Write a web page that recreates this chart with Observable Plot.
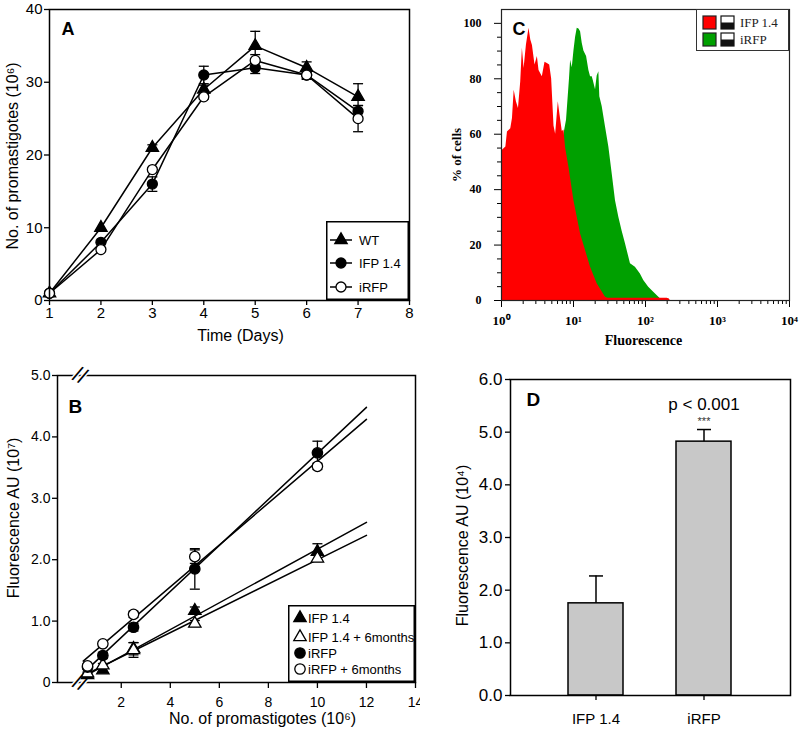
<!DOCTYPE html>
<html><head><meta charset="utf-8">
<script src="https://cdn.jsdelivr.net/npm/d3@7"></script>
<script src="https://cdn.jsdelivr.net/npm/@observablehq/plot@0.6"></script>
<style>
body{margin:0;background:#fff;}
#wrap{position:relative;width:800px;height:735px;overflow:hidden;background:#fff;}
.panel{position:absolute;overflow:hidden;}
.legend{position:absolute;}
</style></head><body><div id="wrap"></div>
<script>
// ---------- Panel A: growth curves ----------
const days = [1, 2, 3, 4, 5, 6, 7];
const dayTicks = [1, 2, 3, 4, 5, 6, 7, 8];
const countTicks = [0, 10, 20, 30, 40];
const wtCount = [1, 10, 21, 29, 35, 32, 28];
const wtErr = [0, 0, 0.4, 0.6, 2, 0.8, 1.8];
const ifpCount = [1, 8, 16, 31, 32, 31, 26];
const ifpErr = [0, 0, 1, 1.2, 0.8, 0.6, 0.8];
const irfpCount = [1, 7, 18, 28, 33, 31, 25];
const irfpErr = [0, 0, 0, 0.3, 0.8, 0.5, 1.8];
const seriesNamesA = ["WT", "IFP 1.4", "iRFP"];

// ---------- Panel B: fluorescence vs cell number ----------
const cellsB = [0.625, 1.25, 2.5, 5, 10];
const cellTicks = [2, 4, 6, 8, 10, 12, 14];
const fluorTicksB = [0, 1, 2, 3, 4, 5];
const ifpFluor = [0.12, 0.2, 0.55, 1.17, 2.13];
const ifpFluorErr = [0.02, 0.03, 0.1, 0.06, 0.13];
const ifp6Fluor = [0.15, 0.28, 0.53, 0.96, 2.02];
const ifp6FluorErr = [0.02, 0.03, 0.12, 0.05, 0.05];
const irfpFluor = [0.25, 0.44, 0.9, 1.85, 3.74];
const irfpFluorErr = [0.03, 0.05, 0.06, 0.33, 0.19];
const irfp6Fluor = [0.27, 0.63, 1.11, 2.05, 3.52];
const irfp6FluorErr = [0.03, 0.04, 0.05, 0.11, 0.05];
const seriesNamesB = ["IFP 1.4", "IFP 1.4 + 6months", "iRFP", "iRFP + 6months"];
const fitRange = [0.45, 12];

// ---------- Panel C: flow cytometry histograms (fluorescence, % of cells) ----------
const ifpHistogram = [
  [1.0, 54], [1.03, 54.2], [1.15, 55.4], [1.21, 60.8], [1.345, 62], [1.42, 65.7], [1.5, 75.9],
  [1.61, 71.7], [1.72, 69.3], [1.85, 78.9], [1.95, 91], [2.06, 83.7], [2.22, 92.2], [2.41, 98.2],
  [2.55, 94], [2.69, 92], [2.92, 85], [3.15, 88], [3.32, 83], [3.69, 80.7], [4.02, 86], [4.33, 85.5],
  [4.67, 85], [4.97, 80], [5.36, 63], [5.65, 60], [6.15, 71.7], [6.49, 67], [6.99, 61], [7.37, 61.5],
  [7.77, 55], [8.65, 48], [10.14, 36], [12.54, 24], [17.25, 12], [21.3, 6], [27.8, 1.2],
  [30, 0.8], [100, 0.8], [200, 0.8], [215, 0.5], [220, 0]
];
const irfpHistogram = [
  [7.37, 60], [8.0, 65], [8.8, 80], [9.12, 86.7], [9.61, 84], [10.14, 90], [10.69, 95], [11.27, 98.2],
  [11.9, 98], [12.54, 97], [13.22, 92.8], [13.94, 90], [15.19, 88], [16.36, 83], [17.25, 80.7],
  [18.2, 80.7], [18.78, 79.5], [20.23, 76], [21.33, 81], [22.5, 82.5], [23.2, 73.5], [25.02, 70],
  [27.84, 62.6], [30.96, 55.4], [34.43, 45.8], [38.3, 36], [42.6, 30], [47.4, 25], [52.7, 20.5],
  [61.8, 13.3], [72.4, 12], [84.9, 9.6], [94.5, 7.2], [110.8, 4.8], [130, 3], [160.8, 0.6], [165, 0]
];
const decadeTicks = [1, 10, 100, 1000, 10000];
const decadeLabels = ["10⁰", "10¹", "10²", "10³", "10⁴"];
const pctTicks = [0, 20, 40, 60, 80, 100];
const histNames = ["IFP 1.4", "iRFP"];

// ---------- Panel D: bar chart ----------
const groupsD = ["IFP 1.4", "iRFP"];
const meansD = [1.75, 4.82];
const errsD = [0.52, 0.23];
const fluorTicksD = [0, 1, 2, 3, 4, 5, 6];
const sigLabel = "p < 0.001";
const sigStars = "***";

const SANS = "'Liberation Sans', Arial, Helvetica, sans-serif";
const SERIF = "'Liberation Serif', 'Times New Roman', serif";
const wrap = document.getElementById("wrap");
function place(node, left, top, w, h, cls = "panel") {
  const div = document.createElement("div");
  div.className = cls;
  Object.assign(div.style, {left: left + "px", top: top + "px", width: w + "px", height: h + "px"});
  div.appendChild(node);
  wrap.appendChild(div);
}
const cap = {draw(ctx, size) { const r = Math.sqrt(size / Math.PI); ctx.moveTo(-r, 0); ctx.lineTo(r, 0); }};
const baseStyle = {fontFamily: SANS, background: "transparent", overflow: "visible", color: "black"};

// ===== Panel A =====
const seriesA = [
  {name: seriesNamesA[0], values: wtCount, errors: wtErr, symbol: "triangle", fill: "black", r: 4.6},
  {name: seriesNamesA[1], values: ifpCount, errors: ifpErr, symbol: "circle", fill: "black", r: 5},
  {name: seriesNamesA[2], values: irfpCount, errors: irfpErr, symbol: "circle", fill: "white", r: 5}
];
const rowsA = seriesA.flatMap(s => days.map((d, i) => ({series: s.name, day: d, value: s.values[i], err: s.errors[i]})));
const errA = rowsA.filter(d => d.err > 0);
const plotA = Plot.plot({
  width: 420, height: 360, marginLeft: 49, marginRight: 11, marginTop: 9, marginBottom: 60,
  style: {...baseStyle, fontSize: "15px"},
  x: {domain: [1, 8], label: null}, y: {domain: [0, 40], label: null},
  marks: [
    Plot.axisX({ticks: dayTicks, tickFormat: d => String(d), tickSize: 5, tickPadding: 2, fontSize: 15, label: null, strokeWidth: 1.3}),
    Plot.axisY({ticks: countTicks, tickFormat: d => String(d), tickSize: 5, tickPadding: 2, fontSize: 15, label: null, strokeWidth: 1.3}),
    Plot.ruleX(errA, {x: "day", y1: d => d.value - d.err, y2: d => d.value + d.err, stroke: "black", strokeWidth: 1.3}),
    Plot.dot(errA, {x: "day", y: d => d.value + d.err, symbol: cap, r: 5, fill: "none", stroke: "black", strokeWidth: 1.3}),
    Plot.dot(errA, {x: "day", y: d => d.value - d.err, symbol: cap, r: 5, fill: "none", stroke: "black", strokeWidth: 1.3}),
    Plot.line(rowsA, {x: "day", y: "value", z: "series", stroke: "black", strokeWidth: 1.5}),
    ...seriesA.map(s => Plot.dot(rowsA.filter(d => d.series === s.name), {x: "day", y: "value", symbol: s.symbol, r: s.r, fill: s.fill, stroke: "black", strokeWidth: 1.3})),
    Plot.frame({stroke: "black", strokeWidth: 1.5}),
    Plot.text(["A"], {text: d => d, frameAnchor: "top-left", dx: 12, dy: 20, textAnchor: "start", lineAnchor: "middle", fontSize: 18, fontWeight: "bold"}),
    Plot.text(["Time (Days)"], {text: d => d, frameAnchor: "bottom", dx: 11, dy: 35, textAnchor: "middle", lineAnchor: "middle", fontSize: 16}),
    Plot.text(["No. of promastigotes (10⁶)"], {text: d => d, frameAnchor: "left", dx: -37, dy: 1, rotate: -90, textAnchor: "middle", lineAnchor: "middle", fontSize: 16})
  ]
});
place(plotA, 0, 0, 420, 360);

// ===== Panel B =====
function fit(xs, ys) {
  const mx = d3.mean(xs), my = d3.mean(ys);
  const b = d3.sum(xs, (x, i) => (x - mx) * (ys[i] - my)) / d3.sum(xs, x => (x - mx) ** 2);
  return [my - b * mx, b];
}
const seriesB = [
  {name: seriesNamesB[0], values: ifpFluor, errors: ifpFluorErr, symbol: "triangle", fill: "black", r: 4.6},
  {name: seriesNamesB[1], values: ifp6Fluor, errors: ifp6FluorErr, symbol: "triangle", fill: "white", r: 4.6},
  {name: seriesNamesB[2], values: irfpFluor, errors: irfpFluorErr, symbol: "circle", fill: "black", r: 5.2},
  {name: seriesNamesB[3], values: irfp6Fluor, errors: irfp6FluorErr, symbol: "circle", fill: "white", r: 5.2}
];
const rowsB = seriesB.flatMap(s => cellsB.map((c, i) => ({series: s.name, cells: c, value: s.values[i], err: s.errors[i]})));
const fitRowsB = seriesB.flatMap(s => { const [a, b] = fit(cellsB, s.values); return fitRange.map(x => ({series: s.name, cells: x, value: a + b * x})); });
const plotB = Plot.plot({
  width: 420, height: 375, marginLeft: 57, marginRight: 5, marginTop: 15, marginBottom: 53,
  style: {...baseStyle, fontSize: "14px"},
  x: {domain: [-0.6, 14], label: null}, y: {domain: [0, 5], label: null},
  marks: [
    Plot.axisX({ticks: cellTicks, tickFormat: d => String(d), tickSize: 6, tickPadding: 9, fontSize: 14, label: null, strokeWidth: 1.3}),
    Plot.axisY({ticks: fluorTicksB, tickFormat: d => d === 0 ? "0" : d.toFixed(1), tickSize: 5, tickPadding: 2, fontSize: 14, label: null, strokeWidth: 1.3}),
    Plot.frame({stroke: "black", strokeWidth: 1.5}),
    Plot.text([0, 5], {x: () => 0.32, y: d => d, text: () => "//", rotate: 25, fontSize: 22, fill: "black", stroke: "white", strokeWidth: 3}),
    Plot.line(fitRowsB, {x: "cells", y: "value", z: "series", stroke: "black", strokeWidth: 1.5}),
    Plot.ruleX(rowsB, {x: "cells", y1: d => d.value - d.err, y2: d => d.value + d.err, stroke: "black", strokeWidth: 1.3}),
    Plot.dot(rowsB, {x: "cells", y: d => d.value + d.err, symbol: cap, r: 5, fill: "none", stroke: "black", strokeWidth: 1.3}),
    Plot.dot(rowsB, {x: "cells", y: d => d.value - d.err, symbol: cap, r: 5, fill: "none", stroke: "black", strokeWidth: 1.3}),
    ...seriesB.map(s => Plot.dot(rowsB.filter(d => d.series === s.name), {x: "cells", y: "value", symbol: s.symbol, r: s.r, fill: s.fill, stroke: "black", strokeWidth: 1.3})),
    Plot.text(["B"], {text: d => d, frameAnchor: "top-left", dx: 11, dy: 31, textAnchor: "start", lineAnchor: "middle", fontSize: 19, fontWeight: "bold"}),
    Plot.text(["No. of promastigotes (10⁶)"], {text: d => d, frameAnchor: "bottom", dx: 26, dy: 36, textAnchor: "middle", lineAnchor: "middle", fontSize: 16}),
    Plot.text(["Fluorescence AU (10⁷)"], {text: d => d, frameAnchor: "left", dx: -44, dy: -11, rotate: -90, textAnchor: "middle", lineAnchor: "middle", fontSize: 16})
  ]
});
place(plotB, 0, 360, 420, 375);

// ===== Panel C =====
const redRows = ifpHistogram.map(([x, y]) => ({x, y}));
const greenRows = irfpHistogram.map(([x, y]) => ({x, y}));
const minorX = [];
for (const dec of [1, 10, 100, 1000]) for (let k = 2; k <= 9; k++) minorX.push(dec * k);
const minorY = d3.range(5, 105, 5).filter(v => v % 20 !== 0);
const plotC = Plot.plot({
  width: 370, height: 360, marginLeft: 71, marginRight: 11, marginTop: 9, marginBottom: 60,
  style: {...baseStyle, fontSize: "12px"},
  x: {type: "log", domain: [1, 10000], label: null}, y: {domain: [0, 105], label: null},
  marks: [
    Plot.areaY(greenRows, {x: "x", y: "y", fill: "#00a000"}),
    Plot.areaY(redRows, {x: "x", y: "y", fill: "#ff0000"}),
    Plot.axisX({ticks: decadeTicks, tickFormat: d => decadeLabels[Math.round(Math.log10(d))], tickSize: 7, tickPadding: 8, fontSize: 13, fontWeight: "bold", fontFamily: SERIF, label: null}),
    Plot.axisX({ticks: minorX, tickFormat: () => "", tickSize: 4, label: null}),
    Plot.axisY({ticks: pctTicks, tickFormat: d => String(d), tickSize: 7, tickPadding: 13, fontSize: 12, fontWeight: "bold", fontFamily: SERIF, label: null}),
    Plot.axisY({ticks: minorY, tickFormat: () => "", tickSize: 4, label: null}),
    Plot.frame({stroke: "#222", strokeWidth: 1.2}),
    Plot.text(["C"], {text: d => d, frameAnchor: "top-left", dx: 11, dy: 20, textAnchor: "start", lineAnchor: "middle", fontSize: 18, fontWeight: "bold", fontFamily: SANS}),
    Plot.text(["Fluorescence"], {text: d => d, frameAnchor: "bottom", dx: -2, dy: 40, textAnchor: "middle", lineAnchor: "middle", fontSize: 14, fontWeight: "bold", fontFamily: SERIF}),
    Plot.text(["% of cells"], {text: d => d, frameAnchor: "left", dx: -45, rotate: -90, textAnchor: "middle", lineAnchor: "middle", fontSize: 13, fontWeight: "bold", fontFamily: SERIF})
  ]
});
place(plotC, 430, 0, 370, 360);

// ===== Panel D =====
const rowsD = groupsD.map((g, i) => ({group: g, mean: meansD[i], err: errsD[i]}));
const plotD = Plot.plot({
  width: 380, height: 375, marginLeft: 90, marginRight: 10, marginTop: 19, marginBottom: 40,
  style: {...baseStyle, fontSize: "16px"},
  x: {domain: groupsD, paddingInner: 0.49, paddingOuter: 0.53, label: null},
  y: {domain: [0, 6], label: null},
  marks: [
    Plot.axisX({tickSize: 5, tickPadding: 13, fontSize: 15, label: null, strokeWidth: 1.3}),
    Plot.axisY({ticks: fluorTicksD, tickFormat: d => d.toFixed(1), tickSize: 5, tickPadding: 3, fontSize: 17, label: null, strokeWidth: 1.3}),
    Plot.ruleX(rowsD, {x: "group", y1: d => d.mean - d.err, y2: d => d.mean + d.err, stroke: "black", strokeWidth: 1.5}),
    Plot.dot(rowsD, {x: "group", y: d => d.mean + d.err, symbol: cap, r: 7, fill: "none", stroke: "black", strokeWidth: 1.5}),
    Plot.barY(rowsD, {x: "group", y: "mean", fill: "#c8c8c8", stroke: "black", strokeWidth: 1.5}),
    Plot.frame({stroke: "black", strokeWidth: 1.5}),
    Plot.text(rowsD.filter(d => d.group === "iRFP"), {x: "group", y: d => d.mean + d.err, text: () => sigLabel, dy: -25, fontSize: 17, lineAnchor: "middle"}),
    Plot.text(rowsD.filter(d => d.group === "iRFP"), {x: "group", y: d => d.mean + d.err, text: () => sigStars, dy: -8, fontSize: 11, fill: "#333", lineAnchor: "middle"}),
    Plot.text(["D"], {text: d => d, frameAnchor: "top-left", dx: 16, dy: 20, textAnchor: "start", lineAnchor: "middle", fontSize: 19, fontWeight: "bold"}),
    Plot.text(["Fluorescence AU (10⁴)"], {text: d => d, frameAnchor: "left", dx: -48, dy: 8, rotate: -90, textAnchor: "middle", lineAnchor: "middle", fontSize: 16})
  ]
});
place(plotD, 420, 360, 380, 375);

// ===== Legends =====
function symbolPath(kind, r) {
  return d3.symbol(kind === "triangle" ? d3.symbolTriangle : d3.symbolCircle, Math.PI * r * r)();
}
function markerLegend(series, w, h, rowY, markerX, textX, withLine) {
  const svg = d3.create("svg").attr("width", w).attr("height", h).style("display", "block");
  svg.append("rect").attr("x", 0.75).attr("y", 0.75).attr("width", w - 1.5).attr("height", h - 1.5)
    .attr("fill", "white").attr("stroke", "black").attr("stroke-width", 1.5);
  series.forEach((s, i) => {
    const g = svg.append("g").attr("transform", `translate(${markerX},${rowY[i]})`);
    if (withLine) g.append("line").attr("x1", -11).attr("x2", 11).attr("stroke", "black").attr("stroke-width", 1.5);
    g.append("path").attr("d", symbolPath(s.symbol, s.r)).attr("fill", s.fill).attr("stroke", "black").attr("stroke-width", 1.3);
    svg.append("text").attr("x", textX).attr("y", rowY[i]).attr("dy", "0.35em")
      .attr("font-size", 13).attr("font-family", SANS).attr("fill", "black").text(s.name);
  });
  return svg.node();
}
place(markerLegend(seriesA, 83, 79, [19, 42, 66], 15, 33, true), 326, 221, 83, 79, "legend");
place(markerLegend(seriesB, 127, 77, [13, 32, 48, 64], 12, 20, false), 288, 605, 127, 77, "legend");

// Panel C legend
const histColors = ["#ff0000", "#00a000"];
const legC = d3.create("svg").attr("width", 93).attr("height", 42).style("display", "block");
legC.append("rect").attr("x", 0.5).attr("y", 0.5).attr("width", 92).attr("height", 41).attr("fill", "white").attr("stroke", "#333").attr("stroke-width", 1);
histNames.forEach((name, i) => {
  const y0 = 7 + i * 17;
  legC.append("rect").attr("x", 7).attr("y", y0).attr("width", 13).attr("height", 13).attr("fill", histColors[i]).attr("stroke", "#222").attr("stroke-width", 1.2);
  legC.append("rect").attr("x", 25).attr("y", y0).attr("width", 13).attr("height", 13).attr("fill", "white").attr("stroke", "#111").attr("stroke-width", 1.2);
  legC.append("rect").attr("x", 25).attr("y", y0 + 6.5).attr("width", 13).attr("height", 6.5).attr("fill", "#111");
  legC.append("text").attr("x", 44).attr("y", y0 + 6.5).attr("dy", "0.35em").attr("font-size", 13)
    .attr("font-family", SERIF).attr("fill", "#222").text(name);
});
place(legC.node(), 696, 9, 93, 42, "legend");
</script></body></html>
